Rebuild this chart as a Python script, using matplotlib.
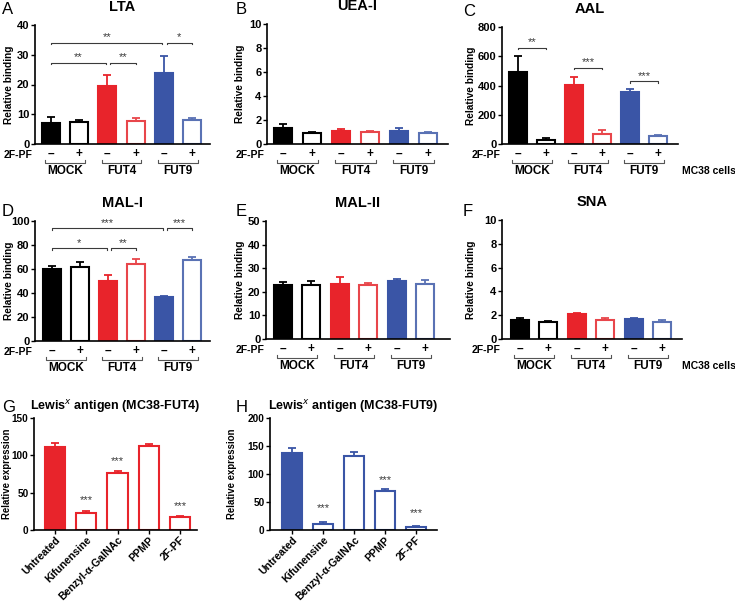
import matplotlib
matplotlib.use("Agg")
import matplotlib.pyplot as plt
import numpy as np

plt.rcParams['font.family'] = ['Liberation Sans', 'DejaVu Sans']
plt.rcParams['mathtext.fontset'] = 'custom'
plt.rcParams['mathtext.rm'] = 'Liberation Sans:bold'
plt.rcParams['mathtext.bf'] = 'Liberation Sans:bold'

W, H = 735, 601
DPI = 100

# ---------------- data ----------------
groups = ["MOCK", "FUT4", "FUT9"]
treat_signs = ["–", "+"]

lta_mean = [7.06, 7.5, 19.6, 7.8, 23.75, 8.0]
lta_err = [2.0, 0.6, 3.7, 0.9, 5.85, 0.6]

uea_mean = [1.34, 0.89, 1.11, 0.97, 1.09, 0.92]
uea_err = [0.33, 0.08, 0.17, 0.09, 0.22, 0.11]

aal_mean = [495, 25, 402, 68, 355, 52]
aal_err = [105, 16, 59, 25, 20, 7]

mal1_mean = [60.3, 61.7, 50.0, 64.2, 36.9, 67.2]
mal1_err = [2.2, 3.9, 5.0, 4.1, 0.9, 2.5]

mal2_mean = [23.0, 22.75, 23.3, 22.75, 24.4, 23.5]
mal2_err = [1.2, 1.85, 2.8, 0.85, 1.2, 1.4]

sna_mean = [1.57, 1.43, 2.08, 1.57, 1.69, 1.43]
sna_err = [0.17, 0.09, 0.11, 0.17, 0.08, 0.17]

lewis_cats = ["Untreated", "Kifunensine", "Benzyl-α-GalNAc", "PPMP", "2F-PF"]
lewis_fut4_mean = [111.5, 23.3, 75.7, 112.4, 17.9]
lewis_fut4_err = [4.9, 2.2, 3.6, 3.1, 1.4]
lewis_fut9_mean = [138, 11.3, 133, 69.3, 5.4]
lewis_fut9_err = [7.7, 3.0, 6.0, 3.5, 2.4]

# significance: (x1, x2, y, label)
lta_sig = [(0, 3.95, 34.1, "**"), (4.1, 5, 34.1, "*"), (0, 1.95, 27.3, "**"), (2.1, 3, 27.3, "**")]
aal_sig = [(0, 1, 659, "**"), (2, 3, 523, "***"), (4, 5, 430, "***")]
mal1_sig = [(0, 3.95, 93.9, "***"), (4.1, 5, 93.9, "***"), (0, 1.95, 77.2, "*"), (2.1, 3, 77.2, "**")]
fut4_stars = [(1, 40, "***"), (2, 92, "***"), (4, 32, "***")]
fut9_stars = [(1, 38.8, "***"), (3, 89.6, "***"), (4, 29.9, "***")]

BLACK = "#000000"
RED = "#e8242b"
RED_L = "#e8464b"
BLUE = "#3a55a6"
BLUE_L = "#5a72b4"
SIGC = "#3a3a3a"

fig = plt.figure(figsize=(W / DPI, H / DPI), dpi=DPI)


def make_ax(x0, x1, ytop, ybot):
    return fig.add_axes([x0 / W, 1 - ybot / H, (x1 - x0) / W, (ybot - ytop) / H])


def style(ax, ymax, step, ylabel, x0, x1, lab_x, tsize=8, lsize=7.3):
    for s in ["top", "right"]:
        ax.spines[s].set_visible(False)
    for s in ["left", "bottom"]:
        ax.spines[s].set_linewidth(1.2)
    ax.set_ylim(0, ymax)
    ax.set_yticks(np.arange(0, ymax + step / 2, step))
    ax.tick_params(axis='y', direction='out', length=3, width=1.0, labelsize=tsize, pad=1)
    for t in ax.get_yticklabels():
        t.set_fontweight('bold')
    ax.set_ylabel(ylabel, fontsize=lsize, fontweight='bold', va='center')
    ax.yaxis.set_label_coords((lab_x - x0) / (x1 - x0), 0.5)


def lectin_panel(x0, x1, ytop, ybot, c0, c5, lab_x, means, errs, ymax, step, title, sig=None, cells=False):
    ax = make_ax(x0, x1, ytop, ybot)
    sp = (c5 - c0) / 5.0
    xl = -(c0 - x0) / sp
    xr = 5 + (x1 - c5) / sp
    ax.set_xlim(xl, xr)
    pos = np.arange(6)
    fills = [BLACK, "white", RED, "white", BLUE, "white"]
    edges = [BLACK, BLACK, RED, RED_L, BLUE, BLUE_L]
    for i in range(6):
        ax.bar(pos[i], means[i], width=0.64, color=fills[i], edgecolor=edges[i], linewidth=1.5, zorder=2)
        ax.errorbar(pos[i], means[i], yerr=[[0], [errs[i]]], ecolor=edges[i], elinewidth=1.3,
                    capsize=3, capthick=1.3, fmt='none', zorder=1)
    style(ax, ymax, step, "Relative binding", x0, x1, lab_x)
    ax.set_xticks([])
    ax.set_title(title, fontsize=10.5, fontweight='bold', pad=10)
    # -/+ row
    for i in range(6):
        ax.annotate(treat_signs[i % 2], xy=(pos[i], 0), xycoords=('data', 'axes fraction'),
                    xytext=(0, -10), textcoords='offset pixels', ha='center', va='center',
                    fontsize=8.5, fontweight='bold', annotation_clip=False)
    ax.annotate("2F-PF", xy=(xl, 0), xycoords=('data', 'axes fraction'), xytext=(-2, -11),
                textcoords='offset pixels', ha='right', va='center', fontsize=7.5,
                fontweight='bold', annotation_clip=False)
    # group brackets
    trans = ax.get_xaxis_transform()
    h = ybot - ytop
    for g in range(3):
        a, b = 2 * g - 0.2, 2 * g + 1.2
        yb = -19 / h
        yt = -16 / h
        ax.plot([a, a, b, b], [yt, yb, yb, yt], transform=trans, color="#555555", lw=0.8, clip_on=False)
        ax.annotate(groups[g], xy=(2 * g + 0.5, 0), xycoords=('data', 'axes fraction'),
                    xytext=(0, -27), textcoords='offset pixels', ha='center', va='center',
                    fontsize=8.5, fontweight='bold', annotation_clip=False)
    if cells:
        ax.annotate("MC38 cells", xy=(682 / W, 0), xycoords=('figure fraction', 'axes fraction'),
                    xytext=(0, -27), textcoords='offset pixels', ha='left', va='center', fontsize=7.5,
                    fontweight='bold', annotation_clip=False)
    if sig:
        d = ymax * 0.012
        for (a, b, y, lab) in sig:
            ax.plot([a, a, b, b], [y - d, y, y, y - d], color=SIGC, lw=0.8, zorder=3)
            ax.text((a + b) / 2, y + ymax * 0.003, lab, ha='center', va='bottom', fontsize=8, color=SIGC)
    return ax


def lewis_panel(x0, x1, ytop, ybot, c0, c4, lab_x, means, errs, ymax, step, color, title, stars):
    ax = make_ax(x0, x1, ytop, ybot)
    sp = (c4 - c0) / 4.0
    ax.set_xlim(-(c0 - x0) / sp, 4 + (x1 - c4) / sp)
    pos = np.arange(5)
    for i in range(5):
        ax.bar(pos[i], means[i], width=0.65, color=color if i == 0 else "white", edgecolor=color,
               linewidth=1.5, zorder=2)
        ax.errorbar(pos[i], means[i], yerr=[[0], [errs[i]]], ecolor=color, elinewidth=1.3,
                    capsize=3, capthick=1.3, fmt='none', zorder=1)
    style(ax, ymax, step, "Relative expression", x0, x1, lab_x, tsize=7.2, lsize=6.9)
    ax.set_xticks(pos)
    ax.set_xticklabels(lewis_cats, rotation=45, ha='right', rotation_mode='anchor',
                       fontsize=7.6, fontweight='bold')
    ax.tick_params(axis='x', direction='out', length=3, width=1.0, pad=0.5)
    for (i, y, lab) in stars:
        ax.text(i, y, lab, ha='center', va='center', fontsize=8, color=SIGC)
    ax.set_title(title, fontsize=9, fontweight='bold', pad=6, x=0.5)
    return ax


lectin_panel(35, 210, 25, 144, 51, 192, 9, lta_mean, lta_err, 40, 10, "LTA", lta_sig)
lectin_panel(267, 448, 24, 144, 283, 428, 240, uea_mean, uea_err, 10, 2, "UEA-I")
lectin_panel(502, 678, 27, 144, 518, 658, 471, aal_mean, aal_err, 800, 200, "AAL", aal_sig, cells=True)
lectin_panel(35, 210, 221, 341, 52, 192, 9, mal1_mean, mal1_err, 100, 20, "MAL-I", mal1_sig)
lectin_panel(266, 450, 221, 339, 283, 425, 240, mal2_mean, mal2_err, 50, 10, "MAL-II")
lectin_panel(502, 682, 220, 339, 520, 662, 471, sna_mean, sna_err, 10, 2, "SNA", cells=True)

lewis_panel(34, 197, 418, 530, 55, 180, 7, lewis_fut4_mean, lewis_fut4_err, 150, 50, RED,
            r"Lewis$^{x}$ antigen (MC38-FUT4)", fut4_stars)
lewis_panel(270, 437, 418, 530, 292, 416, 232, lewis_fut9_mean, lewis_fut9_err, 200, 50, BLUE,
            r"Lewis$^{x}$ antigen (MC38-FUT9)", fut9_stars)

letters = [("A", 2, 10), ("B", 236, 10), ("C", 463, 12), ("D", 2, 212), ("E", 236, 212),
           ("F", 463, 212), ("G", 2, 408), ("H", 236, 408)]
for lab, x, y in letters:
    fig.text(x / W, 1 - y / H, lab, fontsize=12, ha='left', va='center')

fig.savefig("out.png", dpi=DPI)
